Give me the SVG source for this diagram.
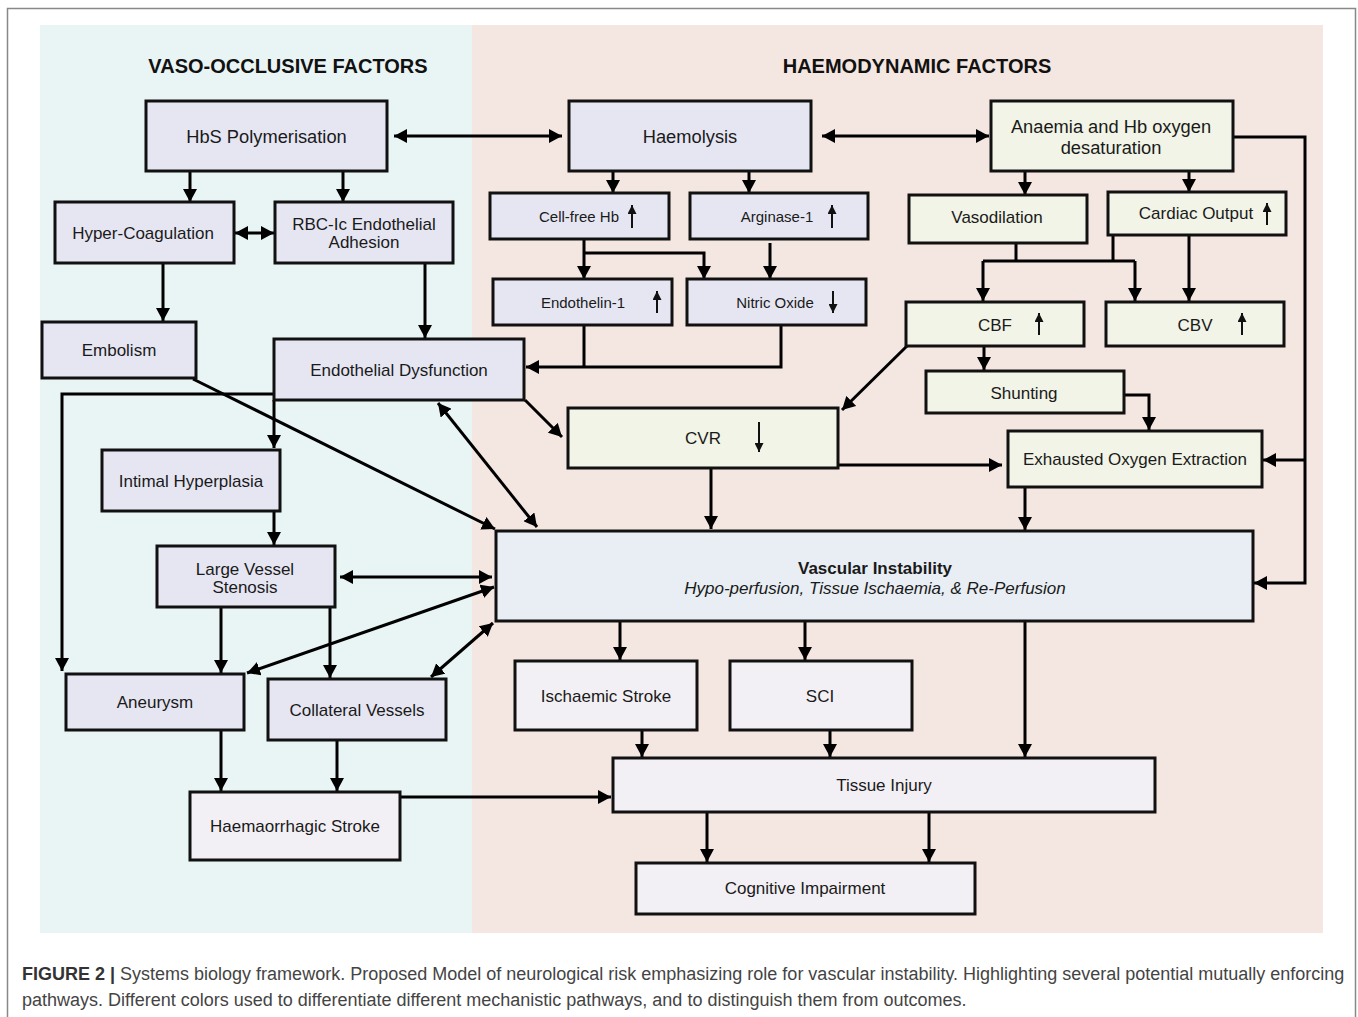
<svg xmlns="http://www.w3.org/2000/svg" width="1358" height="1017" viewBox="0 0 1358 1017">
<defs>
<marker id="ah" markerUnits="userSpaceOnUse" markerWidth="14" markerHeight="14" refX="13" refY="7" orient="auto-start-reverse" viewBox="0 0 14 14">
<path d="M0,0 L13,7 L0,14 z" fill="#000"/>
</marker>
<marker id="sh" markerUnits="userSpaceOnUse" markerWidth="9" markerHeight="9" refX="9" refY="4.5" orient="auto" viewBox="0 0 9 9">
<path d="M0,0 L9,4.5 L0,9 z" fill="#111"/>
</marker>
<style>
.box{stroke:#111;stroke-width:3}
.lav{fill:#E6E6F3}
.grn{fill:#F1F4E6}
.vi{fill:#E8EEF4}
.out{fill:#F3F0F5}
text{font-family:"Liberation Sans",Arial,sans-serif;fill:#1a1a1a}
.t{font-size:17px;text-anchor:middle}
.l{font-size:18.3px;text-anchor:middle}
.s{font-size:15px;text-anchor:middle}
.hd{font-size:20px;font-weight:bold;text-anchor:middle;fill:#111}
.c{fill:none;stroke:#000;stroke-width:3;marker-end:url(#ah)}
.cb{fill:none;stroke:#000;stroke-width:3;marker-end:url(#ah);marker-start:url(#ah)}
.cn{fill:none;stroke:#000;stroke-width:3}
.tr{fill:none;stroke:#111;stroke-width:2;marker-end:url(#sh)}
.cap{font-size:18px;fill:#444}
</style>
</defs>
<rect x="0" y="0" width="1358" height="1017" fill="#fff"/>
<path d="M7.5,1017 V8.5 H1355.5 V1017" fill="none" stroke="#888" stroke-width="1.5"/>
<rect x="40" y="25" width="432" height="908" fill="#E9F4F4"/>
<rect x="472" y="25" width="851" height="908" fill="#F4E6E0"/>
<text class="hd" x="288" y="73">VASO-OCCLUSIVE FACTORS</text>
<text class="hd" x="917" y="73">HAEMODYNAMIC FACTORS</text>

<g id="connectors">
<path class="c" d="M190,172 V202"/>
<path class="c" d="M343,172 V202"/>
<path class="cb" d="M235,233 H274"/>
<path class="c" d="M163,263 V321"/>
<path class="c" d="M425,263 V338"/>
<path class="cb" d="M394,136 H562"/>
<path class="cb" d="M822,136 H989"/>
<path class="c" d="M613,171 V193"/>
<path class="c" d="M749,171 V193"/>
<path class="c" d="M584,239 V279"/>
<path class="c" d="M584,253 H704 V279"/>
<path class="c" d="M770,243 V279"/>
<path class="cn" d="M584,325 V367"/>
<path class="c" d="M781,325 V367 H526"/>
<path class="c" d="M525,400 L562,437"/>
<path class="c" d="M907,346 L842,410"/>
<path class="c" d="M1025,171 V195"/>
<path class="c" d="M1189,171 V192"/>
<path class="cn" d="M1016,243 V261 M1113,235 V261 M983,261 H1135"/>
<path class="c" d="M983,261 V301"/>
<path class="c" d="M1135,261 V301"/>
<path class="c" d="M1189,235 V301"/>
<path class="c" d="M984,346 V370"/>
<path class="c" d="M1124,395 H1149 V430"/>
<path class="c" d="M838,465 H1002"/>
<path class="c" d="M1233,137 H1305 V583 H1254"/>
<path class="c" d="M1305,460 H1263"/>
<path class="c" d="M1025,487 V530"/>
<path class="c" d="M711,468 V529"/>
<path class="c" d="M193,379 L495,529"/>
<path class="cb" d="M438,403 L537,527"/>
<path class="c" d="M274,394 H62 V671"/>
<path class="c" d="M274,400 V448"/>
<path class="c" d="M274,511 V545"/>
<path class="cb" d="M340,577 H492"/>
<path class="cb" d="M247,673 L494,587"/>
<path class="cb" d="M431,677 L493,623"/>
<path class="c" d="M221,607 V673"/>
<path class="c" d="M330,607 V678"/>
<path class="c" d="M221,730 V791"/>
<path class="c" d="M337,740 V791"/>
<path class="c" d="M400,797 H611"/>
<path class="c" d="M620,621 V660"/>
<path class="c" d="M805,621 V660"/>
<path class="c" d="M1025,621 V757"/>
<path class="c" d="M642,730 V757"/>
<path class="c" d="M830,730 V757"/>
<path class="c" d="M707,812 V862"/>
<path class="c" d="M929,812 V862"/>
</g>

<g id="hbs"><rect class="box lav" x="146" y="101" width="241" height="70"/><text class="l" x="266.5" y="143">HbS Polymerisation</text></g>
<g id="hypercoag"><rect class="box lav" x="55" y="202" width="179" height="61"/><text class="t" x="143" y="239">Hyper-Coagulation</text></g>
<g id="rbc"><rect class="box lav" x="275" y="202" width="178" height="61"/><text class="t" x="364" y="230">RBC-Ic Endothelial</text><text class="t" x="364" y="248">Adhesion</text></g>
<g id="embolism"><rect class="box lav" x="42" y="322" width="154" height="56"/><text class="t" x="119" y="356">Embolism</text></g>
<g id="endodys"><rect class="box lav" x="274" y="339" width="250" height="61"/><text class="t" x="399" y="376">Endothelial Dysfunction</text></g>
<g id="haemolysis"><rect class="box lav" x="569" y="101" width="242" height="70"/><text class="l" x="690" y="143">Haemolysis</text></g>
<g id="cellfree"><rect class="box lav" x="490" y="193" width="179" height="46"/><text class="s" x="579" y="222">Cell-free Hb</text><path class="tr" d="M632,228 V205"/></g>
<g id="arginase"><rect class="box lav" x="690" y="193" width="178" height="46"/><text class="s" x="777" y="222">Arginase-1</text><path class="tr" d="M832,228 V205"/></g>
<g id="endothelin"><rect class="box lav" x="493" y="279" width="179" height="46"/><text class="s" x="583" y="308">Endothelin-1</text><path class="tr" d="M657,313 V291"/></g>
<g id="no"><rect class="box lav" x="687" y="279" width="179" height="46"/><text class="s" x="775" y="308">Nitric Oxide</text><path class="tr" d="M833,291 V313"/></g>
<g id="cvr"><rect class="box grn" x="568" y="408" width="270" height="60"/><text class="t" x="703" y="444">CVR</text><path class="tr" d="M759,422 V452"/></g>
<g id="anaemia"><rect class="box grn" x="991" y="101" width="242" height="70"/><text class="l" x="1111" y="133">Anaemia and Hb oxygen</text><text class="l" x="1111" y="154">desaturation</text></g>
<g id="vasodilation"><rect class="box grn" x="909" y="195" width="178" height="48"/><text class="t" x="997" y="223">Vasodilation</text></g>
<g id="cardiac"><rect class="box grn" x="1108" y="192" width="178" height="43"/><text class="t" x="1196" y="219">Cardiac Output</text><path class="tr" d="M1267,225 V203"/></g>
<g id="cbf"><rect class="box grn" x="906" y="302" width="178" height="44"/><text class="t" x="995" y="331">CBF</text><path class="tr" d="M1039,335 V313"/></g>
<g id="cbv"><rect class="box grn" x="1106" y="302" width="178" height="44"/><text class="t" x="1195" y="331">CBV</text><path class="tr" d="M1242,335 V313"/></g>
<g id="shunting"><rect class="box grn" x="926" y="371" width="198" height="42"/><text class="t" x="1024" y="399">Shunting</text></g>
<g id="exhausted"><rect class="box grn" x="1008" y="431" width="254" height="56"/><text class="t" x="1135" y="465">Exhausted Oxygen Extraction</text></g>
<g id="intimal"><rect class="box lav" x="102" y="450" width="178" height="61"/><text class="t" x="191" y="487">Intimal Hyperplasia</text></g>
<g id="largevessel"><rect class="box lav" x="157" y="546" width="178" height="61"/><text class="t" x="245" y="575">Large Vessel</text><text class="t" x="245" y="593">Stenosis</text></g>
<g id="aneurysm"><rect class="box lav" x="66" y="674" width="178" height="56"/><text class="t" x="155" y="708">Aneurysm</text></g>
<g id="collateral"><rect class="box lav" x="268" y="679" width="178" height="61"/><text class="t" x="357" y="716">Collateral Vessels</text></g>
<g id="haemorrhagic"><rect class="box out" x="190" y="792" width="210" height="68"/><text class="t" x="295" y="832">Haemaorrhagic Stroke</text></g>
<g id="vascular"><rect class="box vi" x="496" y="531" width="757" height="90"/><text class="t" x="875" y="574" style="font-weight:bold">Vascular Instability</text><text class="t" x="875" y="594" style="font-style:italic">Hypo-perfusion, Tissue Ischaemia, &amp; Re-Perfusion</text></g>
<g id="ischaemic"><rect class="box out" x="515" y="661" width="182" height="69"/><text class="t" x="606" y="702">Ischaemic Stroke</text></g>
<g id="sci"><rect class="box out" x="730" y="661" width="182" height="69"/><text class="t" x="820" y="702">SCI</text></g>
<g id="tissue"><rect class="box out" x="613" y="758" width="542" height="54"/><text class="t" x="884" y="791">Tissue Injury</text></g>
<g id="cognitive"><rect class="box out" x="636" y="863" width="339" height="51"/><text class="t" x="805" y="894">Cognitive Impairment</text></g>

<text class="cap" x="22" y="980"><tspan style="font-weight:bold;fill:#333">FIGURE 2 |</tspan> Systems biology framework. Proposed Model of neurological risk emphasizing role for vascular instability. Highlighting several potential mutually enforcing</text>
<text class="cap" x="22" y="1006">pathways. Different colors used to differentiate different mechanistic pathways, and to distinguish them from outcomes.</text>
</svg>
